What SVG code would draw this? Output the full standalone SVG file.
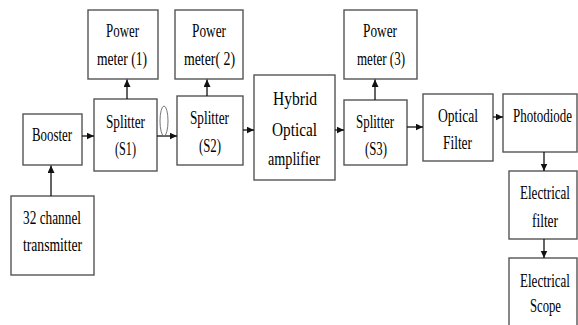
<svg xmlns="http://www.w3.org/2000/svg" width="578" height="325" viewBox="0 0 578 325">
<defs>
<style>
.box{fill:#fff;stroke:#555;stroke-width:1.4}
.t{font-family:"Liberation Serif","Times New Roman",serif;font-size:19.5px;fill:#000;text-anchor:middle}
.c{stroke:#111;stroke-width:1.3;fill:none}
.loop{stroke:#777;stroke-width:1;fill:none}
</style>
<marker id="ah" markerUnits="userSpaceOnUse" markerWidth="8" markerHeight="8" refX="7.5" refY="3.5" orient="auto">
<path d="M0,0 L7.5,3.5 L0,7 Z" fill="#111"/>
</marker>
</defs>
<rect width="578" height="325" fill="#fff"/>
<g id="pm1"><rect class="box" x="88" y="10" width="70" height="69"/>
<text class="t" transform="translate(122.5 37) scale(0.68 1)" textLength="48.5" lengthAdjust="spacingAndGlyphs">Power</text>
<text class="t" transform="translate(122 65) scale(0.68 1)" textLength="73.5" lengthAdjust="spacingAndGlyphs">meter (1)</text></g>
<g id="pm2"><rect class="box" x="175" y="10" width="68" height="69"/>
<text class="t" transform="translate(209 37) scale(0.68 1)" textLength="50" lengthAdjust="spacingAndGlyphs">Power</text>
<text class="t" transform="translate(209.5 65) scale(0.68 1)" textLength="75" lengthAdjust="spacingAndGlyphs">meter( 2)</text></g>
<g id="pm3"><rect class="box" x="344" y="10" width="73" height="69"/>
<text class="t" transform="translate(380 37) scale(0.68 1)" textLength="50" lengthAdjust="spacingAndGlyphs">Power</text>
<text class="t" transform="translate(381 65) scale(0.68 1)" textLength="70.6" lengthAdjust="spacingAndGlyphs">meter (3)</text></g>
<g id="booster"><rect class="box" x="23" y="114" width="59" height="51"/>
<text class="t" transform="translate(52 141) scale(0.68 1)" textLength="58.8" lengthAdjust="spacingAndGlyphs">Booster</text></g>
<g id="s1"><rect class="box" x="94" y="99" width="63" height="72"/>
<text class="t" transform="translate(125.5 128) scale(0.68 1)" textLength="57.4" lengthAdjust="spacingAndGlyphs">Splitter</text>
<text class="t" transform="translate(125.5 155) scale(0.68 1)" textLength="30.9" lengthAdjust="spacingAndGlyphs">(S1)</text></g>
<g id="s2"><rect class="box" x="177" y="96" width="66" height="69"/>
<text class="t" transform="translate(209.5 124) scale(0.68 1)" textLength="57.4" lengthAdjust="spacingAndGlyphs">Splitter</text>
<text class="t" transform="translate(210 152) scale(0.68 1)" textLength="32.4" lengthAdjust="spacingAndGlyphs">(S2)</text></g>
<g id="hybrid"><rect class="box" x="254" y="75" width="81" height="105"/>
<text class="t" transform="translate(295 105) scale(0.68 1)" textLength="64.7" lengthAdjust="spacingAndGlyphs">Hybrid</text>
<text class="t" transform="translate(294.5 136) scale(0.68 1)" textLength="66.2" lengthAdjust="spacingAndGlyphs">Optical</text>
<text class="t" transform="translate(294 165) scale(0.68 1)" textLength="76.5" lengthAdjust="spacingAndGlyphs">amplifier</text></g>
<g id="s3"><rect class="box" x="344" y="100" width="63" height="65"/>
<text class="t" transform="translate(375 128) scale(0.68 1)" textLength="55.9" lengthAdjust="spacingAndGlyphs">Splitter</text>
<text class="t" transform="translate(376 155) scale(0.68 1)" textLength="32.4" lengthAdjust="spacingAndGlyphs">(S3)</text></g>
<g id="ofilter"><rect class="box" x="423" y="94" width="70" height="67"/>
<text class="t" transform="translate(458 122) scale(0.68 1)" textLength="58.8" lengthAdjust="spacingAndGlyphs">Optical</text>
<text class="t" transform="translate(457.5 149) scale(0.68 1)" textLength="42.6" lengthAdjust="spacingAndGlyphs">Filter</text></g>
<g id="photodiode"><rect class="box" x="503" y="94" width="74" height="58"/>
<text class="t" transform="translate(542.5 122) scale(0.68 1)" textLength="86.8" lengthAdjust="spacingAndGlyphs">Photodiode</text></g>
<g id="efilter"><rect class="box" x="509" y="171" width="68" height="68"/>
<text class="t" transform="translate(545 199) scale(0.68 1)" textLength="73.5" lengthAdjust="spacingAndGlyphs">Electrical</text>
<text class="t" transform="translate(545 227) scale(0.68 1)" textLength="38.2" lengthAdjust="spacingAndGlyphs">filter</text></g>
<g id="escope"><rect class="box" x="509" y="258" width="68" height="75"/>
<text class="t" transform="translate(545 287) scale(0.68 1)" textLength="73.5" lengthAdjust="spacingAndGlyphs">Electrical</text>
<text class="t" transform="translate(545.5 312) scale(0.68 1)" textLength="45.6" lengthAdjust="spacingAndGlyphs">Scope</text></g>
<g id="tx"><rect class="box" x="11" y="196" width="83" height="79"/>
<text class="t" transform="translate(52 224) scale(0.68 1)" textLength="85.3" lengthAdjust="spacingAndGlyphs">32 channel</text>
<text class="t" transform="translate(52.5 251) scale(0.68 1)" textLength="86.8" lengthAdjust="spacingAndGlyphs">transmitter</text></g>
<g id="connectors">
<line class="c" x1="51" y1="196" x2="51" y2="165.5" marker-end="url(#ah)"/>
<line class="c" x1="82" y1="136" x2="94" y2="136" marker-end="url(#ah)"/>
<line class="c" x1="127" y1="99" x2="127" y2="79.5" marker-end="url(#ah)"/>
<line class="c" x1="157" y1="136" x2="177" y2="136" marker-end="url(#ah)"/>
<ellipse class="loop" cx="164" cy="121" rx="4" ry="15"/>
<line class="c" x1="207" y1="96" x2="207" y2="79.5" marker-end="url(#ah)"/>
<line class="c" x1="243" y1="130" x2="254" y2="130" marker-end="url(#ah)"/>
<line class="c" x1="335" y1="130" x2="344" y2="130" marker-end="url(#ah)"/>
<line class="c" x1="375" y1="100" x2="375" y2="79.5" marker-end="url(#ah)"/>
<line class="c" x1="407" y1="127" x2="423" y2="127" marker-end="url(#ah)"/>
<line class="c" x1="493" y1="117" x2="503" y2="117" marker-end="url(#ah)"/>
<line class="c" x1="544" y1="152" x2="544" y2="171" marker-end="url(#ah)"/>
<line class="c" x1="544" y1="239" x2="544" y2="258" marker-end="url(#ah)"/>
</g>
</svg>
